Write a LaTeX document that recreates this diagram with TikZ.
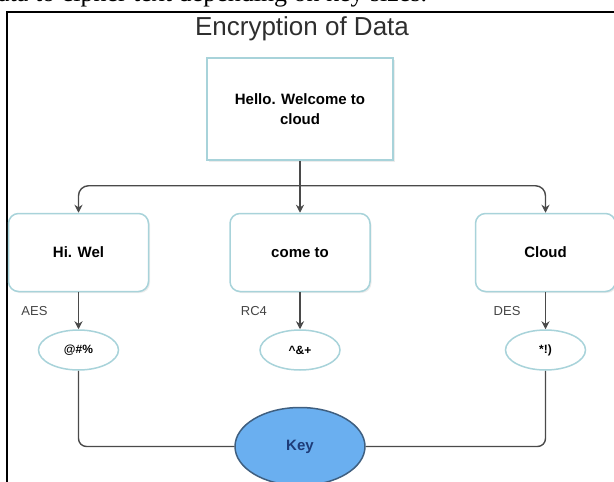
\documentclass[tikz,border=0pt]{standalone}
\usepackage{fontspec}
\setmainfont{Liberation Sans}
\newfontfamily\paperfont{Liberation Serif}
\usepackage{xcolor}
\usetikzlibrary{shapes.geometric,arrows.meta,positioning,shadows}
\definecolor{boxline}{HTML}{A8D3DA}
\definecolor{wire}{HTML}{4A4A4A}
\definecolor{keyfill}{HTML}{6AAFF0}
\definecolor{keyline}{HTML}{3F5F80}
\definecolor{keytext}{HTML}{1E3C78}
\definecolor{algotext}{HTML}{444444}
\definecolor{titlegray}{HTML}{2E2E2E}

\begin{document}
\begin{tikzpicture}[
  x=1pt, y=-1pt,
  font=\fontsize{15}{20}\selectfont,
  msgbox/.style={draw=boxline,line width=1.5pt,fill=white,minimum width=186pt,minimum height=102pt,align=center,font=\fontsize{15}{20}\selectfont\bfseries,drop shadow={opacity=0.15,shadow xshift=1.5pt,shadow yshift=-1.5pt}},
  part/.style={msgbox,rounded corners=10pt,minimum width=140pt,minimum height=78pt},
  cipher/.style={ellipse,draw=boxline,line width=1.5pt,fill=white,inner sep=0pt,minimum width=80pt,minimum height=40pt,font=\fontsize{12}{14}\selectfont\bfseries},
  keynode/.style={ellipse,draw=keyline,line width=1.5pt,fill=keyfill,inner sep=0pt,minimum width=130pt,minimum height=78pt,text=keytext,font=\fontsize{15}{18}\selectfont\bfseries},
  algo/.style={text=algotext,font=\fontsize{13}{15}\selectfont},
  arrow/.style={-{Stealth[length=8pt,width=8pt]},line width=1.4pt,draw=wire},
  link/.style={line width=1.4pt,draw=wire,rounded corners=8pt},
]
\useasboundingbox (0,0) rectangle (614,482);
% page text cut off above the figure
\node[anchor=base west,inner sep=0pt,font=\paperfont\fontsize{26}{30}\selectfont] (caption) at (-2,1.5) {ata to cipher text depending on key sizes.};
\draw[line width=1.6pt] (7,482) -- (7,12) -- (614,12);
\node[font=\fontsize{26}{30}\selectfont,text=titlegray] (title) at (302,29) {Encryption of Data};

\node[msgbox] (msg) at (300,109) {Hello. Welcome to\\cloud};
\node[part, below=52pt of msg] (p2) {come to};
\node[part, left=80pt of p2] (p1) {Hi. Wel};
\node[part, right=104pt of p2] (p3) {Cloud};
\node[cipher, below=37pt of p1] (c1) {@\#\%};
\node[cipher, below=37pt of p2] (c2) {\textasciicircum\&+};
\node[cipher, below=37pt of p3] (c3) {*!)};
\node[keynode, below=36pt of c2] (key) {Key};

\coordinate[below=25pt of msg.south] (fork);
\draw[arrow] (msg) -- (p2);
\draw[arrow,rounded corners=10pt] (fork) -| (p1.north);
\draw[arrow,rounded corners=10pt] (fork) -| (p3.north);
\draw[arrow] (p1) -- node[algo,left=27pt]{AES} (c1);
\draw[arrow] (p2) -- node[algo,left=29pt]{RC4} (c2);
\draw[arrow] (p3) -- node[algo,left=21pt]{DES} (c3);
\draw[link] (c1.south) |- (key.west);
\draw[link] (c3.south) |- (key.east);
\end{tikzpicture}
\end{document}
